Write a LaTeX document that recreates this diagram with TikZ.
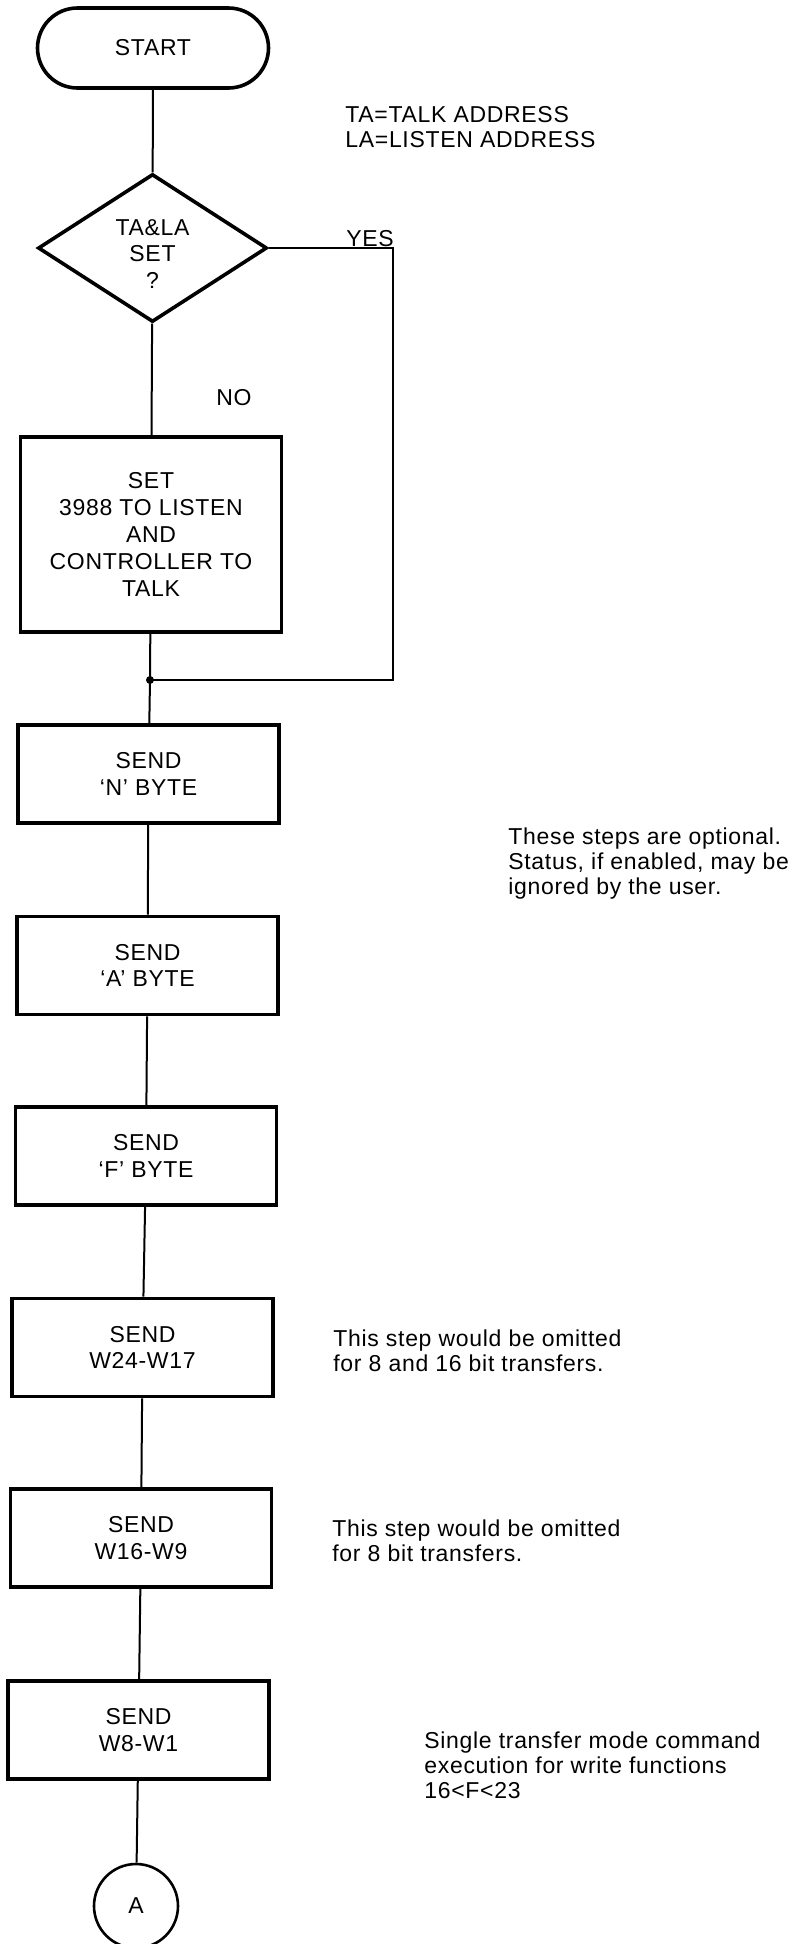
\documentclass[tikz,border=0pt]{standalone}
\usepackage{fontspec}
\setmainfont{Liberation Sans}[LetterSpace=3]
\usetikzlibrary{shapes.geometric}
\begin{document}
\begin{tikzpicture}[x=0.5pt,y=-0.5pt,
  boxfont/.style={font=\fontsize{11.5}{13.4}\selectfont},
  notefont/.style={font=\fontsize{11.5}{12.5}\selectfont},
  term/.style={draw, line width=1.8pt, rounded corners=20pt, minimum width=115.5pt, minimum height=40pt, inner sep=0pt, boxfont},
  decision/.style={draw, diamond, line width=1.8pt, minimum width=114.5pt, minimum height=74pt, inner sep=0pt},
  stepbox/.style={draw, line width=1.8pt, minimum width=130.5pt, minimum height=49pt, align=center, inner sep=0pt, boxfont},
  bigbox/.style={stepbox, minimum height=97.5pt},
  conn/.style={draw, circle, line width=1.3pt, minimum size=42pt, inner sep=0pt, boxfont},
  flow/.style={line width=1pt},
  note/.style={align=left, inner sep=0pt, anchor=north west, notefont},
  lbl/.style={inner sep=0pt, anchor=base west, boxfont}
]
\useasboundingbox (0,0) rectangle (796,1944);

% nodes
\node[term] (start) at (153,48) {START};
\node[decision, label={[font=\fontsize{11.5}{13.2}\selectfont, align=center, yshift=-3pt]center:TA\&LA\\SET\\?}] (dec) at (152.5,248) {};
\node[bigbox] (set) at (151,534.5) {SET\\3988 TO LISTEN\\AND\\CONTROLLER TO\\TALK};
\node[stepbox] (nb) at (148.5,774) {SEND\\`N' BYTE};
\node[stepbox] (ab) at (147.5,965.5) {SEND\\`A' BYTE};
\node[stepbox] (fb) at (146,1156) {SEND\\`F' BYTE};
\node[stepbox] (w24) at (142.5,1347.5) {SEND\\W24-W17};
\node[stepbox] (w16) at (141,1538) {SEND\\W16-W9};
\node[stepbox] (w8) at (138.5,1730) {SEND\\W8-W1};
\node[conn] (ca) at (136,1906) {A};

\coordinate (join) at (150,680);
\coordinate (yr) at (393,248);
\coordinate (yb) at (393,680);

% labels
\node[lbl] (yes) at (346,246) {YES};
\node[lbl] (no) at (216,405) {NO};

% notes
\node[note] (tnote) at (345,106) {TA=TALK ADDRESS\\LA=LISTEN ADDRESS};
\node[note] (onote) at (508,827) {These steps are optional.\\Status, if enabled, may be\\ignored by the user.};
\node[note] (w24note) at (333,1329) {This step would be omitted\\for 8 and 16 bit transfers.};
\node[note] (w16note) at (332,1519) {This step would be omitted\\for 8 bit transfers.};
\node[note] (w8note) at (424,1731) {Single transfer mode command\\execution for write functions\\16<F<23};

% connectors
\draw[flow] (start) -- (dec);
\draw[flow] (dec) -- (set);
\draw[flow] (dec.east) -- (yr) -- (yb) -- (join);
\draw[flow] (set) -- (join) -- (nb);
\fill (join) circle (2pt);
\draw[flow] (nb) -- (ab);
\draw[flow] (ab) -- (fb);
\draw[flow] (fb) -- (w24);
\draw[flow] (w24) -- (w16);
\draw[flow] (w16) -- (w8);
\draw[flow] (w8) -- (ca);
\end{tikzpicture}
\end{document}
